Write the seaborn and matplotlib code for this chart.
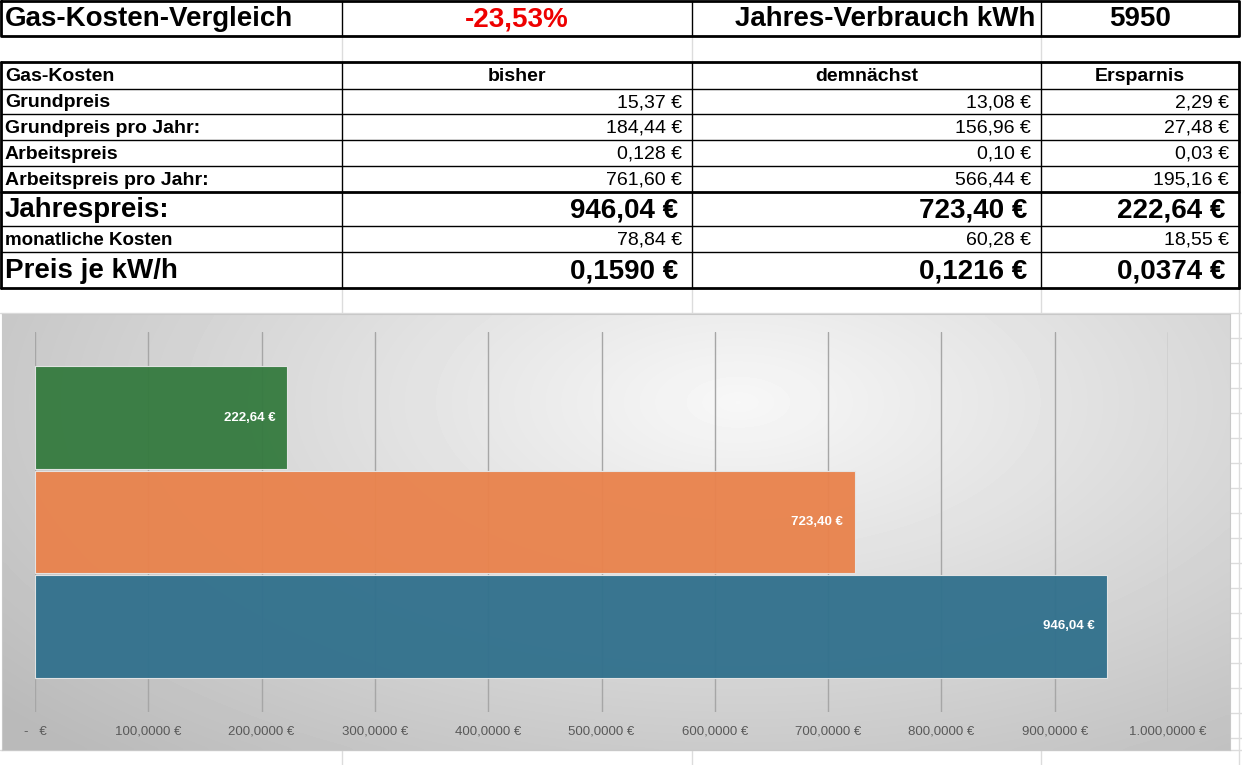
import numpy as np
import matplotlib
matplotlib.use("Agg")
import matplotlib.pyplot as plt
import seaborn as sns

# --- Daten ---
titel = "Gas-Kosten-Vergleich"
prozent_text = "-23,53%"
verbrauch_label = "Jahres-Verbrauch kWh"
verbrauch_kwh = 5950

spalten = ["Gas-Kosten", "bisher", "demnächst", "Ersparnis"]
zeilen = ["Grundpreis", "Grundpreis pro Jahr:", "Arbeitspreis", "Arbeitspreis pro Jahr:",
          "Jahrespreis:", "monatliche Kosten", "Preis je kW/h"]
bisher = ["15,37 €", "184,44 €", "0,128 €", "761,60 €", "946,04 €", "78,84 €", "0,1590 €"]
demnaechst = ["13,08 €", "156,96 €", "0,10 €", "566,44 €", "723,40 €", "60,28 €", "0,1216 €"]
ersparnis = ["2,29 €", "27,48 €", "0,03 €", "195,16 €", "222,64 €", "18,55 €", "0,0374 €"]

# Balken (von oben nach unten)
balken_namen = ["Ersparnis", "demnächst", "bisher"]
balken_werte = [222.64, 723.40, 946.04]
balken_farben = ["#367b40", "#e9834d", "#32718d"]


def euro(v, d):
    s = f"{v:,.{d}f}".replace(",", "X").replace(".", ",").replace("X", ".")
    return s + " €"


sns.set_style("white")
plt.rcParams["font.family"] = ["Liberation Sans", "DejaVu Sans"]
plt.rcParams["text.color"] = "black"

W, H = 1242, 765
fig = plt.figure(figsize=(W / 100, H / 100), dpi=100)
fig.patch.set_facecolor("white")


def px_axes(x0, y0, x1, y1):
    return fig.add_axes([x0 / W, 1 - y1 / H, (x1 - x0) / W, (y1 - y0) / H])


# --- Tabelle ---
ax_t = fig.add_axes([0, 0, 1, 1])
ax_t.set_xlim(0, W)
ax_t.set_ylim(H, 0)
ax_t.axis("off")

sp_x = [1, 342, 692, 1041, 1239]
hell = "#dcdcdc"

# helle Tabellenraster
for x in sp_x[1:4]:
    for y0, y1 in [(36, 62), (288, 313), (750, 765)]:
        ax_t.plot([x, x], [y0, y1], color=hell, lw=1)
ax_t.plot([1239, 1239], [288, 765], color=hell, lw=1)
ax_t.plot([0, W], [313, 313], color=hell, lw=1)
ax_t.plot([0, W], [750, 750], color=hell, lw=1)
for y in range(338, 750, 25):
    ax_t.plot([1230, W], [y, y], color=hell, lw=1)

# Kopfzeile
ax_t.plot([1, 1239, 1239, 1, 1], [1, 1, 36, 36, 1], color="black", lw=2)
for x in sp_x[1:4]:
    ax_t.plot([x, x], [1, 36], color="black", lw=1)
ax_t.text(5, 19, titel, fontsize=20, fontweight="bold", va="center", ha="left")
ax_t.text(517, 19, prozent_text, fontsize=20, fontweight="bold", va="center", ha="center", color="#ee0000")
ax_t.text(1035, 19, verbrauch_label, fontsize=20, fontweight="bold", va="center", ha="right")
ax_t.text(1140, 19, str(verbrauch_kwh), fontsize=20, fontweight="bold", va="center", ha="center")

# Kostentabelle
kanten = [62, 89, 114, 140, 166, 192, 226, 252, 288]
dick = [62, 192, 288]
for y in kanten:
    ax_t.plot([1, 1239], [y, y], color="black", lw=2 if y in dick else 1)
ax_t.plot([1, 1], [62, 288], color="black", lw=2)
ax_t.plot([1239, 1239], [62, 288], color="black", lw=2)
for x in sp_x[1:4]:
    ax_t.plot([x, x], [62, 288], color="black", lw=1)

ym = (kanten[0] + kanten[1]) / 2 + 1
ax_t.text(5, ym, spalten[0], fontsize=14, fontweight="bold", va="center", ha="left")
for i in range(1, 4):
    ax_t.text((sp_x[i] + sp_x[i + 1]) / 2, ym, spalten[i], fontsize=14, fontweight="bold",
              va="center", ha="center")

gross = [False, False, False, False, True, False, True]
for r, name in enumerate(zeilen):
    ym = (kanten[r + 1] + kanten[r + 2]) / 2 + 1
    if gross[r]:
        ax_t.text(5, ym, name, fontsize=20, fontweight="bold", va="center", ha="left")
    else:
        ax_t.text(5, ym, name, fontsize=13.5 if r == 5 else 14, fontweight="bold", va="center", ha="left")
    for c, werte in enumerate([bisher, demnaechst, ersparnis]):
        xr = sp_x[c + 2]
        if gross[r]:
            ax_t.text(xr - 14, ym, werte[r], fontsize=20, fontweight="bold", va="center", ha="right")
        else:
            ax_t.text(xr - 10, ym, werte[r], fontsize=14, va="center", ha="right")

# --- Diagramm-Hintergrund (Verlauf) ---
ax_g = px_axes(2, 314, 1230, 750)
gx, gy = np.meshgrid(np.linspace(0, 1, 300), np.linspace(0, 1, 120))
dist = np.sqrt(((gx - 0.6) / 0.72) ** 2 + ((gy - 0.2) / 1.0) ** 2)
ax_g.imshow(0.97 - 0.22 * np.clip(dist, 0, 1.1), cmap="gray", vmin=0, vmax=1, aspect="auto",
            extent=[0, 1, 1, 0], interpolation="bicubic")
ax_g.set_xticks([])
ax_g.set_yticks([])
for s in ax_g.spines.values():
    s.set_color("#c8c8c8")

# --- Balkendiagramm ---
ax = px_axes(35, 332, 1168, 712)
ax.patch.set_alpha(0)
sns.barplot(x=balken_werte, y=balken_namen, hue=balken_namen, palette=balken_farben,
            orient="h", width=0.985, ax=ax, legend=False, saturation=1, alpha=0.96,
            edgecolor="#e6e6e6", linewidth=0.8)
ax.set_xlim(0, 1000)
ax.set_ylim(2.8225, -0.8225)
ax.set_axisbelow(True)
ticks = np.arange(0, 1001, 100)
ax.set_xticks(ticks)
ax.set_xticklabels(["-   €"] + [euro(t, 4) for t in ticks[1:]], fontsize=9.5, color="#595959")
ax.tick_params(axis="x", length=0, pad=10)
ax.set_yticks([])
ax.set_xlabel("")
ax.set_ylabel("")
ax.grid(axis="x", color="#a6a6a6", lw=1)
ax.grid(axis="y", visible=False)
for s in ax.spines.values():
    s.set_visible(False)

for i, v in enumerate(balken_werte):
    ax.text(v - 10.5, i, euro(v, 2), color="white", fontweight="bold",
            fontsize=9.5, ha="right", va="center")

fig.savefig("out.png", dpi=100, facecolor="white")
